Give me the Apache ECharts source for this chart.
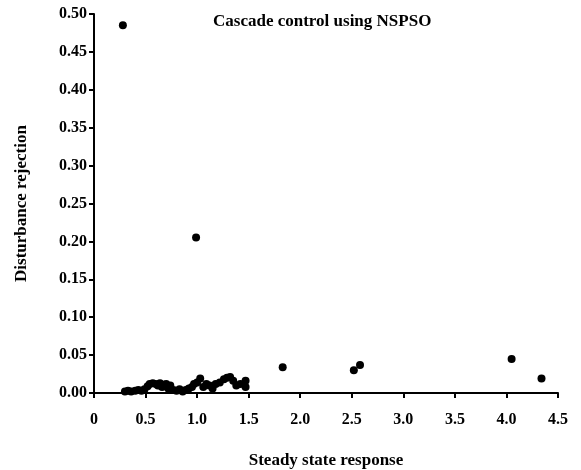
<!DOCTYPE html>
<html>
<head>
<meta charset="utf-8">
<script src="https://cdn.jsdelivr.net/npm/echarts@6/dist/echarts.min.js"></script>
<style>html,body{margin:0;padding:0;background:#fff}#c{width:581px;height:470px}</style>
</head>
<body>
<div id="c"></div>
<script>
var titleText = 'Cascade control using NSPSO';
var xName = 'Steady state response';
var yName = 'Disturbance rejection';
var xs = [0.28,0.99,1.83,2.52,2.58,4.05,4.34,
  0.30,0.33,0.36,0.40,0.43,0.46,0.49,0.52,0.54,0.57,0.60,0.62,0.64,0.66,0.68,0.70,0.72,0.74,
  0.77,0.80,0.83,0.86,0.89,0.92,0.95,0.97,1.00,1.03,1.06,1.09,1.12,1.15,1.18,1.22,1.26,1.29,
  1.32,1.35,1.38,1.42,1.47,1.47];
var ys = [0.485,0.205,0.034,0.030,0.037,0.045,0.019,
  0.002,0.003,0.002,0.003,0.004,0.003,0.005,0.009,0.012,0.013,0.012,0.010,0.013,0.008,0.011,0.012,0.006,0.010,
  0.004,0.003,0.005,0.002,0.004,0.006,0.008,0.012,0.014,0.019,0.008,0.012,0.010,0.006,0.012,0.014,0.018,0.020,
  0.021,0.016,0.010,0.012,0.016,0.008];
var pts = xs.map(function(x,i){return [x, ys[i]];});
var font = 'Liberation Serif';
var chart = echarts.init(document.getElementById('c'));
chart.setOption({
  animation:false,
  title:{text:titleText,left:208,top:8,textStyle:{fontFamily:font,fontSize:17,fontWeight:'bold',color:'#000'}},
  grid:{left:94,right:23,top:14,bottom:77,outerBoundsMode:'none',containLabel:false},
  xAxis:{type:'value',min:0,max:4.5,interval:0.5,
    name:xName,nameLocation:'middle',nameGap:59,
    nameTextStyle:{fontFamily:font,fontSize:17,fontWeight:'bold',color:'#000'},
    axisLine:{lineStyle:{color:'#000',width:2}},
    axisTick:{length:5,lineStyle:{color:'#000',width:2}},
    splitLine:{show:false},
    axisLabel:{fontFamily:font,fontSize:16,fontWeight:'bold',color:'#000',margin:19,
      formatter:function(v){return v===0?'0':v.toFixed(1);}}},
  yAxis:{type:'value',min:0,max:0.5,interval:0.05,
    name:yName,nameLocation:'middle',nameGap:64,
    nameTextStyle:{fontFamily:font,fontSize:17,fontWeight:'bold',color:'#000'},
    axisLine:{show:true,lineStyle:{color:'#000',width:2}},
    axisTick:{show:true,length:5,lineStyle:{color:'#000',width:2}},
    splitLine:{show:false},
    axisLabel:{fontFamily:font,fontSize:16,fontWeight:'bold',color:'#000',margin:7,
      formatter:function(v){return v.toFixed(2);}}},
  series:[{type:'scatter',data:pts,symbolSize:8,itemStyle:{color:'#000',opacity:1}}]
});
</script>
</body>
</html>
